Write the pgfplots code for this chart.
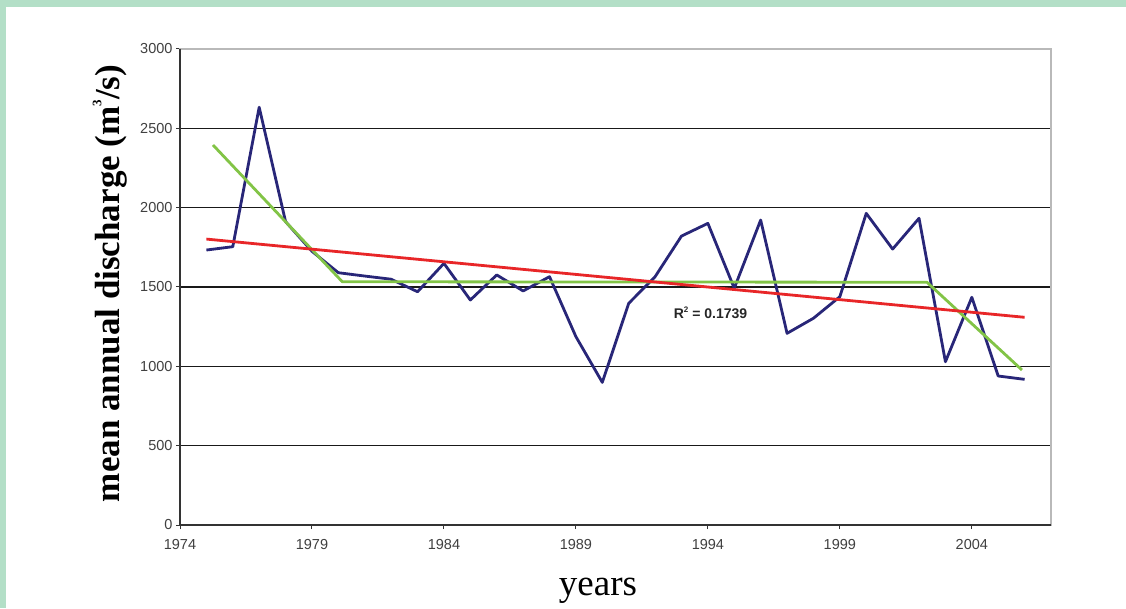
\documentclass[border=0pt]{standalone}
\usepackage{pgfplots}
\pgfplotsset{compat=1.18}
\usepackage{fontspec}
\setmainfont{Liberation Serif}
\newfontfamily\arial{Liberation Sans}
\definecolor{frameg}{RGB}{179,223,199}
\definecolor{navy}{RGB}{40,38,120}
\definecolor{tred}{RGB}{232,38,40}
\definecolor{tgreen}{RGB}{130,196,70}
\begin{document}
\begin{tikzpicture}[x=1pt,y=1pt]
\useasboundingbox (0,0) rectangle (1126,608);
\fill[frameg] (0,0) rectangle (1126,608);
\fill[white] (6,0) rectangle (1126,601);
\begin{axis}[
  at={(180pt,83pt)}, anchor=south west,
  scale only axis, width=871pt, height=476pt,
  xmin=1974, xmax=2007, ymin=0, ymax=3000,
  xtick={1974,1979,...,2004},
  xticklabels={1974,1979,1984,1989,1994,1999,2004},
  ytick={0,500,...,3000},
  ymajorgrids, grid style={black!90, line width=1.1pt},
  tick pos=left, tick align=outside, major tick length=4pt,
  tick style={black!80, line width=1pt},
  ticklabel style={font=\arial\fontsize{14.5}{16}\selectfont, text=black!75},
  xticklabel style={yshift=-7pt},
  /pgf/number format/1000 sep={},
  /pgf/number format/assume math mode=true,
  axis line style={draw=gray!55, line width=1.5pt},
  clip=false,
]
\addplot[draw=navy, line width=2.8pt, line join=round] coordinates {
(1975,1733) (1976,1754) (1977,2633) (1978,1912) (1979,1725) (1980,1590)
(1981,1569) (1982,1549) (1983,1470) (1984,1649) (1985,1418) (1986,1576)
(1987,1475) (1988,1565) (1989,1187) (1990,899) (1991,1397) (1992,1565)
(1993,1821) (1994,1901) (1995,1492) (1996,1922) (1997,1208) (1998,1303)
(1999,1439) (2000,1964) (2001,1739) (2002,1933) (2003,1029) (2004,1435)
(2005,939) (2006,918)};
\addplot[draw=tgreen, line width=2.8pt, line join=round] coordinates {
(1975.25,2395) (1980.15,1533) (2002.3,1530) (2005.9,977)};
\addplot[draw=tred, line width=2.8pt] coordinates {(1975,1802) (2006,1309)};
\draw[gray!55, line width=1.5pt] (rel axis cs:0,1) -- (rel axis cs:1,1) -- (rel axis cs:1,0);
\draw[black!80, line width=1.2pt] (rel axis cs:0,1) -- (rel axis cs:0,0) -- (rel axis cs:1,0);
\node[font=\arial\bfseries\fontsize{14}{16}\selectfont, text=black!85] at (axis cs:1994.1,1336) {R\raisebox{0.75ex}{\fontsize{8}{8}\selectfont 2} = 0.1739};
\end{axis}
\node[rotate=90, anchor=base, font=\bfseries\fontsize{35}{40}\selectfont] at (119,324.5) {mean annual discharge (m\raisebox{1.1ex}{\fontsize{13}{13}\selectfont 3}/s)};
\node[anchor=base, font=\fontsize{37}{40}\selectfont] at (598,13) {years};
\end{tikzpicture}
\end{document}
